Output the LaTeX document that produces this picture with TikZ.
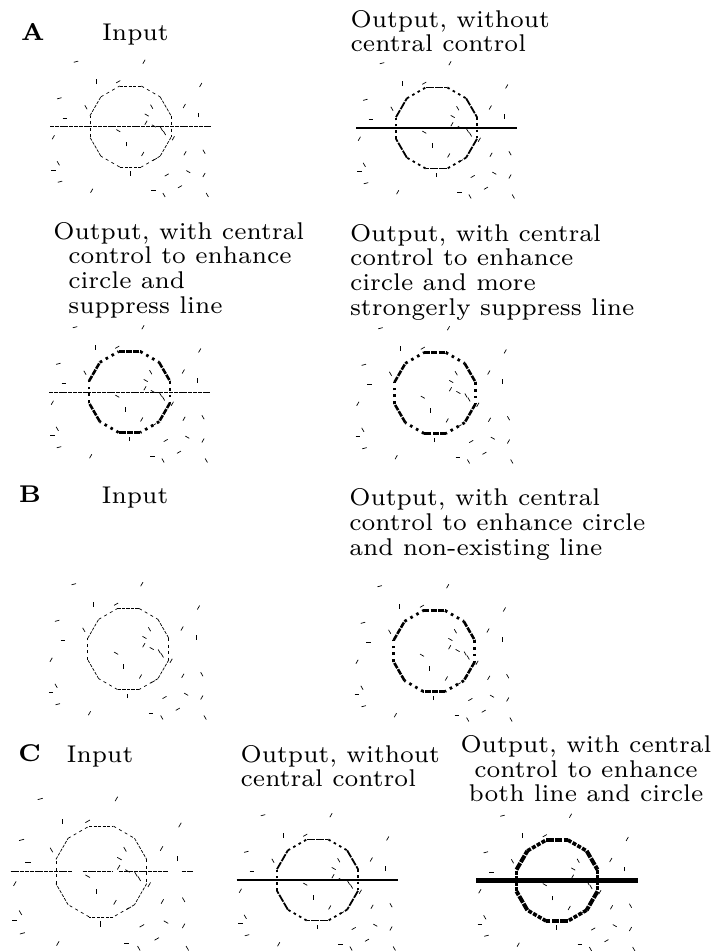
\documentclass[tikz,border=0pt]{standalone}
\usepackage{tikz}

\font\LabelFace="[lmroman7-regular]" at 24.2pt
\font\LabelBold="[lmroman7-bold]" at 24.2pt
\newcommand\LabelFont{\LabelFace\baselineskip=24.6pt\relax}
% background dashes: x/y from ring centre, angle
\newcommand\NoiseList{-54.5/-64.8/15, 13.5/-64.8/60, -34.5/-44.8/90, -12.2/-44.8/30,
  70.2/-41.5/60, -71.2/-28.2/15, -44.5/-19.2/120, 21.2/-19.8/120, 53.8/-20.5/60,
  67.8/-11.5/90, -65.5/-8.2/0, 16.2/-11.5/150, 15.5/-3.8/60, 23.4/-0.5/150,
  -77.2/10.8/60, -12.2/4.2/150, 31/2.5/120, 34/6.5/120, -4.5/17.5/90, 42.8/11.8/60,
  54.5/26.8/60, 73.5/25.2/120, 12.2/27.5/60, 24.5/32.8/30, -72.2/36.8/120,
  -77.2/43.5/0, -0.5/46.8/90, 36.2/48.5/30, 57.8/45.2/150, 73.5/48.5/60,
  -70.5/55.2/15, -38.8/64.2/60, 22.8/64.2/0, 33.5/68.5/120, 49.5/60.2/30, 76.8/68.5/120}
\newcommand\DrawNoise{%
  \foreach \nx/\ny/\na in \NoiseList
    {\draw[noise] (\nx,\ny) ++({-\na}:-2.3) -- ++({-\na}:4.6);}}
\newcommand\DrawRing[2]{%
  \foreach \ka in {15,75,...,315}
    {\draw[#1] (\ka:\RingR) -- ({\ka+30}:\RingR);}%
  \foreach \ka in {45,105,...,345}
    {\draw[#2] (\ka:\RingR) -- ({\ka+30}:\RingR);}}

\begin{document}
\begin{tikzpicture}[x=1pt,y=-1pt,
    noise/.style={line width=0.7pt},
    ringInEven/.style={line width=0.7pt,dash pattern=on 3.2pt off 1.3pt},
    ringInOdd/.style={line width=0.7pt,dash pattern=on 3pt off 3.5pt},
    ringOutEven/.style={line width=1.8pt,dash pattern=on 8pt off 1.2pt},
    ringOutOdd/.style={line width=1.8pt,dash pattern=on 2.6pt off 3.6pt},
    ringCtlEven/.style={line width=2.6pt,dash pattern=on 6pt off 1.2pt},
    ringCtlOdd/.style={line width=2.8pt,dash pattern=on 2.6pt off 4.2pt},
    ringBothEven/.style={line width=4pt,dash pattern=on 7.5pt off 1.2pt},
    ringBothOdd/.style={line width=3.6pt,dash pattern=on 4pt off 1.5pt},
    lineIn/.style={line width=0.75pt,dash pattern=on 4pt off 0.8pt},
    lineOut/.style={line width=2.2pt},
    lineBoth/.style={line width=4.4pt},
    lbl/.style={anchor=base west,inner sep=0pt,outer sep=0pt,font=\LabelFont,align=left}]
    \useasboundingbox (0,0) rectangle (717,951);
    \pgfmathsetmacro\RingR{40.5/cos(15)}
    %
    %
        % A, input
    \node[lbl] (labA) at (21,40) {\LabelBold A};
    \node[lbl] (inA) at (102,40) {Input};
    \begin{scope}[shift={(130.5,126.5)}]
        \DrawNoise
        \DrawRing{ringInEven}{ringInOdd}
        \draw[lineIn] (-80.5,0) -- (80.5,0);
    \end{scope}
    %
        % A, output without control
    \node[lbl] (outA) at (350.7,51.7) {Output, without\\central control};
    \begin{scope}[shift={(436.5,128)}]
        \DrawNoise
        \DrawRing{ringOutEven}{ringOutOdd}
        \draw[lineOut] (-80.5,0) -- (80.8,0);
    \end{scope}
    %
        % A, control, line suppressed
    \node[lbl] (ctlA) at (68.3,313) {\hspace*{-15pt}Output, with central\\control to enhance\\circle and\\suppress line};
    \begin{scope}[shift={(129.5,392)}]
        \DrawNoise
        \DrawRing{ringCtlEven}{ringCtlOdd}
        \draw[lineIn] (-80.5,0) -- (80.5,0);
    \end{scope}
    %
        % A, control, line more strongly suppressed
    \node[lbl] (strA) at (350,315) {Output, with central\\control to enhance\\circle and more\\strongerly suppress line};
    \begin{scope}[shift={(435,393)}]
        \DrawNoise
        \DrawRing{ringCtlEven}{ringCtlOdd}
    \end{scope}
    %
    %
        % B, input
    \node[lbl] (labB) at (19,502.7) {\LabelBold B};
    \node[lbl] (inB) at (101.7,503) {Input};
    \begin{scope}[shift={(128.3,649)}]
        \DrawNoise
        \DrawRing{ringInEven}{ringInOdd}
    \end{scope}
    %
        % B, output with control
    \node[lbl] (outB) at (349.3,555) {Output, with central\\control to enhance circle\\and non-existing line};
    \begin{scope}[shift={(434.2,651)}]
        \DrawNoise
        \DrawRing{ringCtlEven}{ringCtlOdd}
    \end{scope}
    %
    %
        % C, input
    \node[lbl] (labC) at (18.3,761.7) {\LabelBold C};
    \node[lbl] (inC) at (66.7,762) {Input};
    \begin{scope}[shift={(101.3,871.5)},scale=1.12]
        \DrawNoise
        \DrawRing{ringInEven}{ringInOdd}
        \draw[lineIn] (-80.9,0) -- (-26.4,0) (-16.6,0) -- (10.7,0)
            (16.1,0) -- (59.8,0) (71.8,0) -- (81.6,0);
    \end{scope}
    %
        % C, output without control
    \node[lbl] (outC) at (240.7,786.7) {Output, without\\central control};
    \begin{scope}[shift={(317.5,880)}]
        \DrawNoise
        \DrawRing{ringOutEven}{ringOutOdd}
        \draw[lineOut] (-80.8,0) -- (80.8,0);
    \end{scope}
    %
        % C, control on line and circle
    \node[lbl,anchor=base,align=center] (bothC) at (586,801.7) {Output, with central\\control to enhance\\both line and circle};
    \begin{scope}[shift={(557,880.5)}]
        \DrawNoise
        \DrawRing{ringBothEven}{ringBothOdd}
        \draw[lineBoth] (-81,0) -- (81.3,0);
    \end{scope}
\end{tikzpicture}
\end{document}
